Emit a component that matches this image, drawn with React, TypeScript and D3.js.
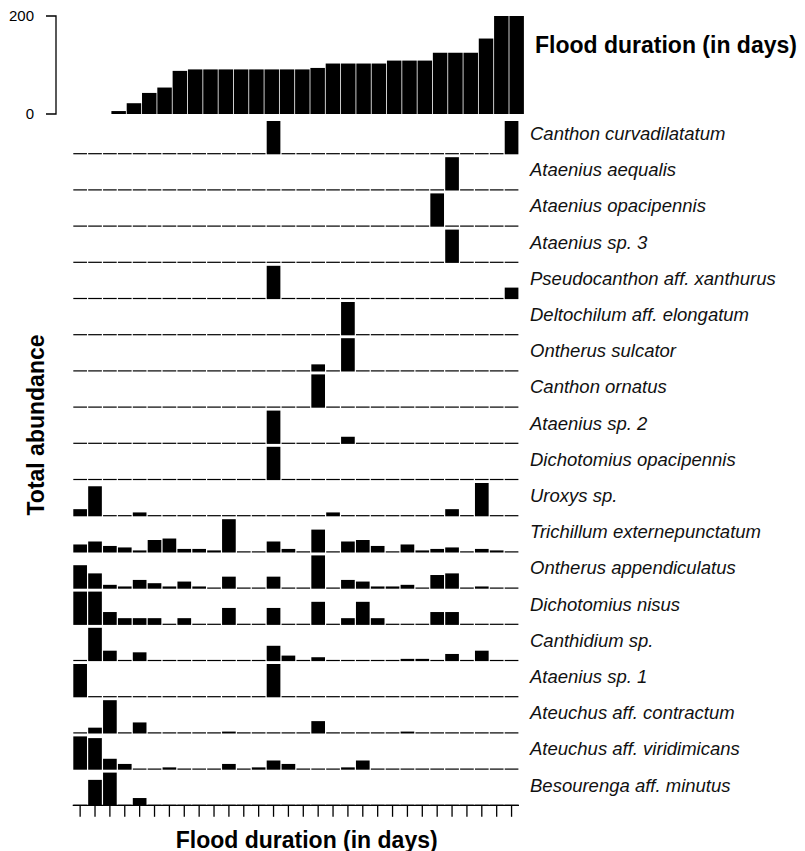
import * as d3 from 'd3';
import React, { useEffect, useRef } from 'react';

// flood duration of the sampled sites (top panel), sorted
const floodDays = [6, 22, 43, 54, 88, 91, 91, 91, 91, 91, 91, 91, 91, 94, 103, 103, 103, 103, 109, 109, 109, 125, 125, 125, 154, 200, 200];
const floodTicks = [0, 200];

const siteCount = 30;

const speciesNames = [
    'Canthon curvadilatatum',
    'Ataenius aequalis',
    'Ataenius opacipennis',
    'Ataenius sp. 3',
    'Pseudocanthon aff. xanthurus',
    'Deltochilum aff. elongatum',
    'Ontherus sulcator',
    'Canthon ornatus',
    'Ataenius sp. 2',
    'Dichotomius opacipennis',
    'Uroxys sp.',
    'Trichillum externepunctatum',
    'Ontherus appendiculatus',
    'Dichotomius nisus',
    'Canthidium sp.',
    'Ataenius sp. 1',
    'Ateuchus aff. contractum',
    'Ateuchus aff. viridimicans',
    'Besourenga aff. minutus',
];

// abundance per site, one row per species (same order as speciesNames)
const abundance = [
    [0, 0, 0, 0, 0, 0, 0, 0, 0, 0, 0, 0, 0, 1, 0, 0, 0, 0, 0, 0, 0, 0, 0, 0, 0, 0, 0, 0, 0, 1],
    [0, 0, 0, 0, 0, 0, 0, 0, 0, 0, 0, 0, 0, 0, 0, 0, 0, 0, 0, 0, 0, 0, 0, 0, 0, 1, 0, 0, 0, 0],
    [0, 0, 0, 0, 0, 0, 0, 0, 0, 0, 0, 0, 0, 0, 0, 0, 0, 0, 0, 0, 0, 0, 0, 0, 1, 0, 0, 0, 0, 0],
    [0, 0, 0, 0, 0, 0, 0, 0, 0, 0, 0, 0, 0, 0, 0, 0, 0, 0, 0, 0, 0, 0, 0, 0, 0, 1, 0, 0, 0, 0],
    [0, 0, 0, 0, 0, 0, 0, 0, 0, 0, 0, 0, 0, 3, 0, 0, 0, 0, 0, 0, 0, 0, 0, 0, 0, 0, 0, 0, 0, 1],
    [0, 0, 0, 0, 0, 0, 0, 0, 0, 0, 0, 0, 0, 0, 0, 0, 0, 0, 1, 0, 0, 0, 0, 0, 0, 0, 0, 0, 0, 0],
    [0, 0, 0, 0, 0, 0, 0, 0, 0, 0, 0, 0, 0, 0, 0, 0, 1, 0, 5, 0, 0, 0, 0, 0, 0, 0, 0, 0, 0, 0],
    [0, 0, 0, 0, 0, 0, 0, 0, 0, 0, 0, 0, 0, 0, 0, 0, 1, 0, 0, 0, 0, 0, 0, 0, 0, 0, 0, 0, 0, 0],
    [0, 0, 0, 0, 0, 0, 0, 0, 0, 0, 0, 0, 0, 5, 0, 0, 0, 0, 1, 0, 0, 0, 0, 0, 0, 0, 0, 0, 0, 0],
    [0, 0, 0, 0, 0, 0, 0, 0, 0, 0, 0, 0, 0, 1, 0, 0, 0, 0, 0, 0, 0, 0, 0, 0, 0, 0, 0, 0, 0, 0],
    [2, 9, 0, 0, 1, 0, 0, 0, 0, 0, 0, 0, 0, 0, 0, 0, 0, 1, 0, 0, 0, 0, 0, 0, 0, 2, 0, 10, 0, 0],
    [5, 7, 4, 3, 1, 8, 9, 2, 2, 1, 22, 0, 0, 7, 2, 0, 15, 0, 7, 8, 4, 0, 5, 1, 2, 3, 0, 2, 1, 0],
    [14, 9, 2, 1, 5, 3, 1, 4, 1, 0, 7, 0, 0, 7, 0, 0, 20, 0, 5, 4, 1, 1, 2, 0, 8, 9, 0, 1, 0, 0],
    [16, 16, 6, 3, 3, 3, 0, 3, 0, 0, 8, 0, 0, 8, 0, 0, 11, 0, 3, 11, 3, 0, 0, 0, 6, 6, 0, 0, 0, 0],
    [0, 20, 6, 0, 5, 0, 0, 0, 0, 0, 0, 0, 0, 9, 3, 0, 2, 0, 0, 0, 0, 0, 1, 1, 0, 4, 0, 6, 0, 0],
    [1, 0, 0, 0, 0, 0, 0, 0, 0, 0, 0, 0, 0, 1, 0, 0, 0, 0, 0, 0, 0, 0, 0, 0, 0, 0, 0, 0, 0, 0],
    [0, 4, 25, 0, 8, 0, 0, 0, 0, 0, 1, 0, 0, 0, 0, 0, 9, 0, 0, 0, 0, 0, 1, 0, 0, 0, 0, 0, 0, 0],
    [19, 18, 6, 3, 0, 0, 1, 0, 0, 0, 3, 0, 1, 5, 3, 0, 0, 0, 1, 5, 0, 0, 0, 0, 0, 0, 0, 0, 0, 0],
    [0, 7, 9, 0, 2, 0, 0, 0, 0, 0, 0, 0, 0, 0, 0, 0, 0, 0, 0, 0, 0, 0, 0, 0, 0, 0, 0, 0, 0, 0],
];

const FONT = '"Liberation Sans", Arial, Helvetica, sans-serif';

const Chart = () => {
    const ref = useRef(null);

    useEffect(() => {
        const width = 805;
        const height = 851;
        const firstBase = 153.7;
        const rowStep = 36.2;
        const rowH = 32.7;
        const gap = 1.2;

        const svg = d3.select(ref.current);
        svg.selectAll('*').remove();
        svg.attr('width', width).attr('height', height);

        // top panel: flood duration
        const xTop = d3.scaleBand().domain(d3.range(floodDays.length)).range([111, 524.3]);
        const yTop = d3.scaleLinear().domain([0, 200]).range([114, 16]);

        svg.append('g')
            .selectAll('rect')
            .data(floodDays)
            .join('rect')
            .attr('x', (d, i) => xTop(i) + 0.4)
            .attr('width', xTop.bandwidth() - 0.8)
            .attr('y', d => yTop(d))
            .attr('height', d => yTop(0) - yTop(d))
            .attr('fill', '#000');

        const axisTop = svg.append('g').attr('transform', 'translate(56,0)')
            .call(d3.axisLeft(yTop).tickValues(floodTicks).tickSize(10).tickPadding(12));
        axisTop.select('.domain').attr('d', `M-10,${yTop(0)}H0V${yTop(200)}H-10`).attr('stroke-width', 1.3);
        axisTop.selectAll('.tick line').remove();
        axisTop.selectAll('text').attr('font-family', FONT).attr('font-size', 15).attr('fill', '#000');

        svg.append('text')
            .attr('x', 535).attr('y', 53)
            .attr('font-family', FONT).attr('font-size', 23).attr('font-weight', 'bold')
            .text('Flood duration (in days)');

        // species rows
        const x = d3.scaleBand().domain(d3.range(siteCount)).range([72.7, 519]);

        speciesNames.forEach((name, r) => {
            const base = firstBase + r * rowStep;
            const vals = abundance[r];
            const y = d3.scaleLinear().domain([0, d3.max(vals)]).range([0, rowH]);
            const g = svg.append('g');

            g.selectAll('rect')
                .data(vals)
                .join('rect')
                .attr('x', (d, i) => x(i) + gap / 2)
                .attr('width', x.bandwidth() - gap)
                .attr('y', d => (d > 0 ? base - y(d) : base - 0.6))
                .attr('height', d => (d > 0 ? y(d) + 0.6 : 1.2))
                .attr('fill', '#000');

            g.append('text')
                .attr('x', 530).attr('y', base - 13.7)
                .attr('font-family', FONT).attr('font-size', 18.5).attr('font-style', 'italic')
                .attr('fill', '#111')
                .text(name);
        });

        // bottom axis
        const lastBase = firstBase + (speciesNames.length - 1) * rowStep;
        const axisB = svg.append('g').attr('transform', `translate(0,${lastBase})`);
        axisB.append('line')
            .attr('x1', 72.7).attr('x2', 519)
            .attr('stroke', '#000').attr('stroke-width', 1.3);
        axisB.selectAll('line.tick')
            .data(d3.range(siteCount))
            .join('line')
            .attr('class', 'tick')
            .attr('x1', i => x(i) + x.bandwidth() / 2)
            .attr('x2', i => x(i) + x.bandwidth() / 2)
            .attr('y1', 0).attr('y2', 11.5)
            .attr('stroke', '#000').attr('stroke-width', 1.3);

        svg.append('text')
            .attr('x', 306.7).attr('y', 848)
            .attr('text-anchor', 'middle')
            .attr('font-family', FONT).attr('font-size', 23).attr('font-weight', 'bold')
            .text('Flood duration (in days)');

        svg.append('text')
            .attr('transform', 'translate(43.5,425) rotate(-90)')
            .attr('text-anchor', 'middle')
            .attr('font-family', FONT).attr('font-size', 23).attr('font-weight', 'bold')
            .text('Total abundance');
    }, []);

    return <svg ref={ref} style={{ position: 'absolute', left: 0, top: 0, background: '#fff' }}></svg>;
};

export default function App() {
    return <Chart />;
}
